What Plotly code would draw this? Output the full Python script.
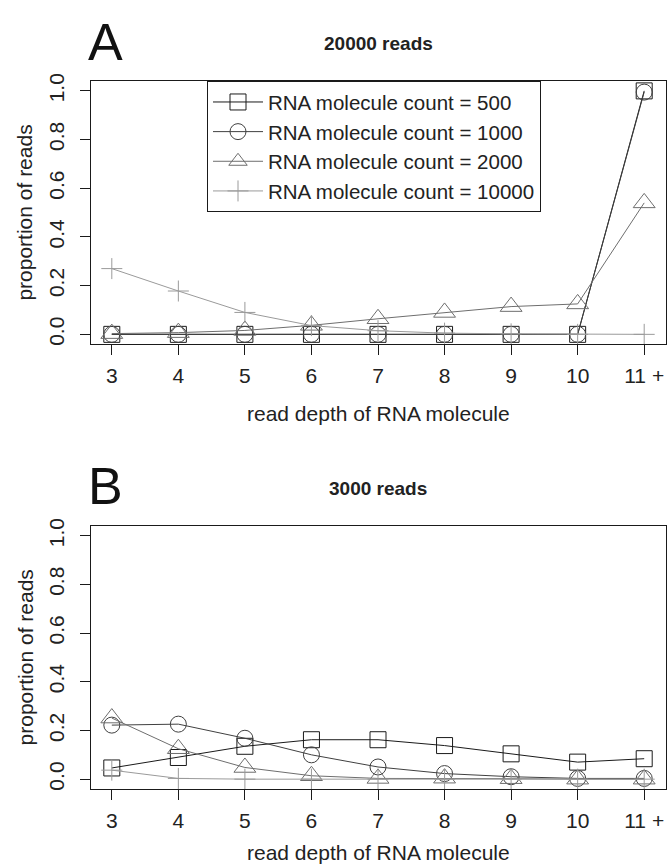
import plotly.graph_objects as go

# ---------------- data ----------------
depth_labels = ["3", "4", "5", "6", "7", "8", "9", "10", "11 +"]
series_names = [
    "RNA molecule count = 500",
    "RNA molecule count = 1000",
    "RNA molecule count = 2000",
    "RNA molecule count = 10000",
]
# panel A: 20000 reads
a_500 = [0.0, 0.0, 0.0, 0.0, 0.0, 0.0, 0.0, 0.0, 1.0]
a_1000 = [0.0, 0.0, 0.0, 0.0, 0.0, 0.0, 0.0, 0.0, 0.995]
a_2000 = [0.003, 0.007, 0.016, 0.037, 0.064, 0.09, 0.114, 0.125, 0.54]
a_10000 = [0.27, 0.178, 0.09, 0.036, 0.015, 0.005, 0.002, 0.0, 0.0]
# panel B: 3000 reads
b_500 = [0.046, 0.089, 0.135, 0.162, 0.162, 0.138, 0.104, 0.070, 0.084]
b_1000 = [0.222, 0.226, 0.168, 0.100, 0.050, 0.023, 0.010, 0.003, 0.003]
b_2000 = [0.251, 0.125, 0.048, 0.014, 0.003, 0.004, 0.002, 0.0, 0.0]
b_10000 = [0.037, 0.003, 0.0, 0.0, 0.0, 0.0, 0.0, 0.0, 0.0]
y_ticks = [0.0, 0.2, 0.4, 0.6, 0.8, 1.0]

# ---------------- style ----------------
W, H = 667, 868
FONT = "Liberation Sans, Arial, sans-serif"
colors = ["#1a1a1a", "#404040", "#6e6e6e", "#9a9a9a"]
symbols = ["square-open", "circle-open", "triangle-up-open", "cross-thin-open"]
sizes = [16, 16, 19, 15]

fig = go.Figure()
panels = [([a_500, a_1000, a_2000, a_10000], "x", "y", True),
          ([b_500, b_1000, b_2000, b_10000], "x2", "y2", False)]
for series, xa, ya, show in panels:
    for i, vals in enumerate(series):
        fig.add_trace(go.Scatter(
            x=depth_labels, y=vals, xaxis=xa, yaxis=ya,
            mode="lines+markers", name=series_names[i], showlegend=show,
            line=dict(color=colors[i], width=1),
            marker=dict(symbol=symbols[i], size=sizes[i], color=colors[i],
                        line=dict(color=colors[i], width=1)),
        ))

def px_x(p):
    return p / W

def px_y(p):
    return 1 - p / H

x_dom = [px_x(90.5), px_x(665.5)]
axis_common = dict(
    showline=True, linecolor="#1a1a1a", linewidth=1, mirror=True,
    ticks="outside", ticklen=10, tickcolor="#1a1a1a", tickwidth=1,
    showgrid=False, zeroline=False,
    tickfont=dict(family=FONT, size=21, color="#222"),
)
xcommon = dict(axis_common, type="category", categoryorder="array",
               categoryarray=depth_labels, range=[-0.32, 8.32],
               ticklabelstandoff=3)
ycommon = dict(axis_common, range=[-0.04, 1.04], tickvals=y_ticks,
               ticktext=[f"{v:.1f}" for v in y_ticks], tickangle=-90,
               ticklabelstandoff=7)

fig.update_layout(
    width=W, height=H, margin=dict(l=0, r=0, t=0, b=0),
    paper_bgcolor="white", plot_bgcolor="white",
    font=dict(family=FONT, size=20, color="#222"),
    xaxis=dict(xcommon, domain=x_dom, anchor="y"),
    yaxis=dict(ycommon, domain=[px_y(340), px_y(74)], anchor="x"),
    xaxis2=dict(xcommon, domain=x_dom, anchor="y2"),
    yaxis2=dict(ycommon, domain=[px_y(790), px_y(524)], anchor="x2"),
    legend=dict(x=px_x(207), y=px_y(74), xanchor="left", yanchor="top",
                bordercolor="#1a1a1a", borderwidth=1, bgcolor="white",
                font=dict(family=FONT, size=20.5, color="#222"),
                itemwidth=50, tracegroupgap=0),
)

ann = []
for off, letter, title in [(0, "A", "20000 reads"), (450, "B", "3000 reads")]:
    ann.append(dict(text=letter, x=px_x(86), y=px_y(34 + off), xref="paper", yref="paper",
                    xanchor="left", yanchor="middle", showarrow=False,
                    font=dict(family=FONT, size=52, color="#111")))
    ann.append(dict(text="<b>" + title + "</b>", x=px_x(378), y=px_y(36 + off),
                    xref="paper", yref="paper", xanchor="center", yanchor="middle",
                    showarrow=False, font=dict(family=FONT, size=19, color="#222")))
    ann.append(dict(text="proportion of reads", x=px_x(25), y=px_y(207 + off),
                    xref="paper", yref="paper", xanchor="center", yanchor="middle",
                    textangle=-90, showarrow=False,
                    font=dict(family=FONT, size=21, color="#222")))
ann.append(dict(text="read depth of RNA molecule", x=px_x(378), y=px_y(410),
                xref="paper", yref="paper", xanchor="center", yanchor="middle",
                showarrow=False, font=dict(family=FONT, size=21, color="#222")))
ann.append(dict(text="read depth of RNA molecule", x=px_x(378), y=0,
                xref="paper", yref="paper", xanchor="center", yanchor="bottom",
                showarrow=False, font=dict(family=FONT, size=21, color="#222")))
fig.update_layout(annotations=ann)

fig.write_html("out.html")
